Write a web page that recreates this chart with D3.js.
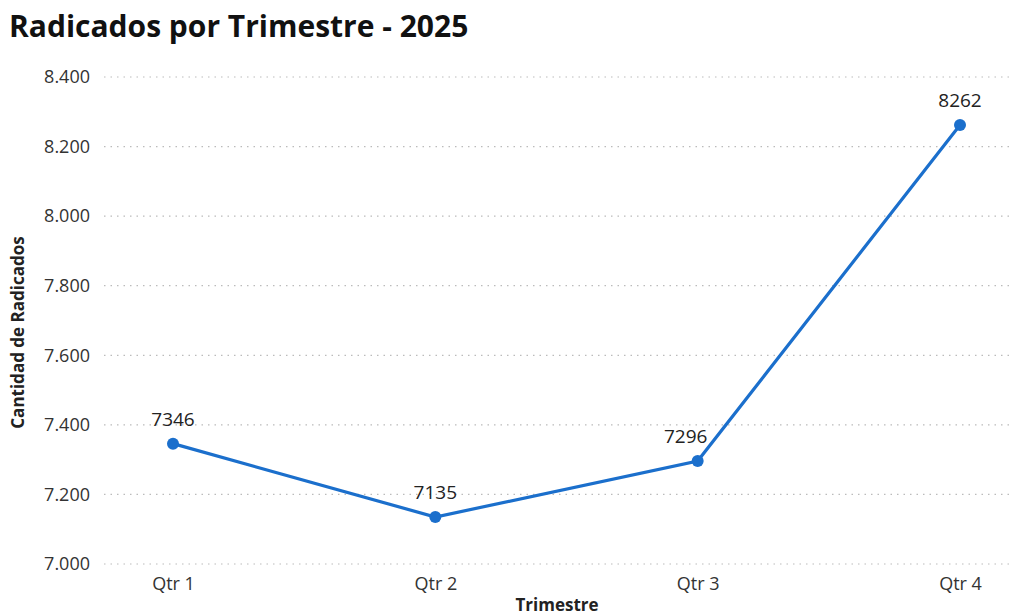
<!DOCTYPE html>
<html>
<body style="margin:0;background:white">
<style>
    body { font-family: "Open Sans", "Noto Sans", sans-serif; }
    .tick text { fill: #333; font-size: 18px; }
</style>
<svg id="view" width="1015" height="616"></svg>
<script src="https://cdnjs.cloudflare.com/ajax/libs/d3/7.8.5/d3.min.js"></script>
<script>
    const quarters = ['Qtr 1', 'Qtr 2', 'Qtr 3', 'Qtr 4'];
    const radicados = [7346, 7135, 7296, 8262];
    const yTicks = [7000, 7200, 7400, 7600, 7800, 8000, 8200, 8400];

    const svg = d3.select('#view');
    const plotLeft = 104, plotRight = 1012, plotTop = 77, plotBottom = 564;

    const x = d3.scalePoint().domain(quarters).range([173, 960]);
    const y = d3.scaleLinear().domain([7000, 8400]).range([plotBottom, plotTop]);
    const fmt = v => d3.format(',')(v).replace(/,/g, '.');

    // title
    svg.append('text')
        .attr('x', 9).attr('y', 37)
        .style('font-size', '30px').style('font-weight', 'bold').style('fill', '#111')
        .text('Radicados por Trimestre - 2025');

    // gridlines
    svg.append('g').selectAll('line').data(yTicks).join('line')
        .attr('x1', plotLeft).attr('x2', plotRight)
        .attr('y1', d => y(d)).attr('y2', d => y(d))
        .attr('stroke', '#bbb').attr('stroke-width', 1.2)
        .attr('stroke-dasharray', '1.5,5');

    // y axis
    const yAxis = svg.append('g').attr('transform', `translate(${plotLeft - 6},0)`)
        .call(d3.axisLeft(y).tickValues(yTicks).tickFormat(fmt).tickSize(0).tickPadding(8));
    yAxis.select('.domain').remove();
    yAxis.selectAll('text').style('font-family', '"Open Sans", sans-serif');

    // x axis
    const xAxis = svg.append('g').attr('transform', `translate(0,${plotBottom + 7})`)
        .call(d3.axisBottom(x).tickSize(0).tickPadding(6));
    xAxis.select('.domain').remove();
    xAxis.selectAll('text').style('font-family', '"Open Sans", sans-serif');

    // axis titles
    svg.append('text')
        .attr('transform', `translate(24,${(plotTop + plotBottom) / 2 + 12}) rotate(-90)`)
        .attr('text-anchor', 'middle')
        .style('font-size', '17px').style('font-weight', 'bold').style('fill', '#222')
        .text('Cantidad de Radicados');
    svg.append('text')
        .attr('x', 557).attr('y', 611)
        .attr('text-anchor', 'middle')
        .style('font-size', '17px').style('font-weight', 'bold').style('fill', '#222')
        .text('Trimestre');

    // line
    const pts = quarters.map((q, i) => ({q: q, v: radicados[i]}));
    svg.append('path').datum(pts)
        .attr('fill', 'none').attr('stroke', '#1b6fcc').attr('stroke-width', 3.2)
        .attr('d', d3.line().x(d => x(d.q)).y(d => y(d.v)));

    svg.append('g').selectAll('circle').data(pts).join('circle')
        .attr('cx', d => x(d.q)).attr('cy', d => y(d.v)).attr('r', 6)
        .attr('fill', '#1b6fcc');

    // data labels (the one beside the steep segment sits a bit to the left)
    svg.append('g').selectAll('text').data(pts).join('text')
        .attr('x', (d, i) => x(d.q) - (i === 2 ? 12 : 0))
        .attr('y', d => y(d.v) - 18)
        .attr('text-anchor', 'middle')
        .style('font-size', '19px').style('fill', '#222')
        .text(d => d.v);
</script>
</body>
</html>
